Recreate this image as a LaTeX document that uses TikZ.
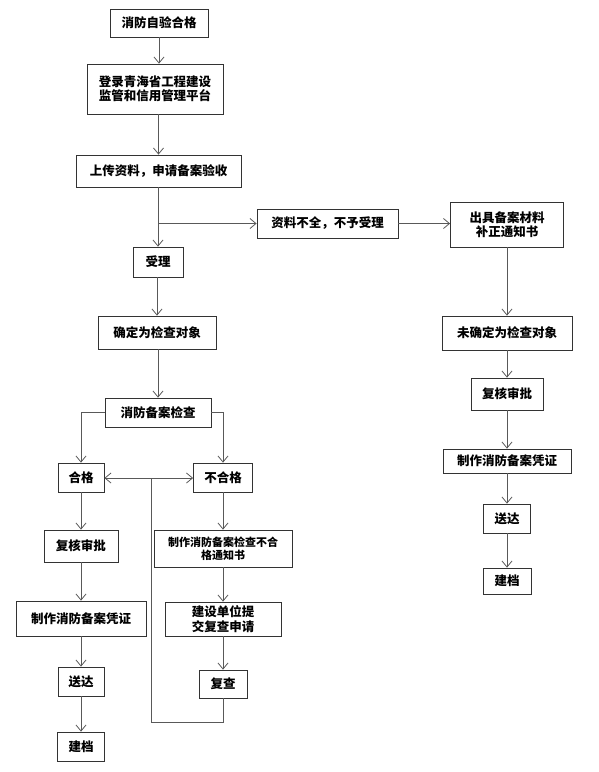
\documentclass[tikz,border=0pt]{standalone}
\usepackage{fontspec}
\newfontfamily\cjk{Noto Sans CJK SC}
\usetikzlibrary{arrows.meta}

\begin{document}
\begin{tikzpicture}[
    x=1pt, y=-1pt,
    box/.style={draw=black!80, line width=0.8pt, inner sep=0pt, align=center,
      font=\cjk\bfseries\fontsize{12.5}{14.5}\selectfont},
    small/.style={font=\cjk\bfseries\fontsize{11}{12.5}\selectfont},
    flow/.style={draw=black!65, line width=0.8pt,
      -{Straight Barb[length=6pt, width=10pt]}},
    line/.style={draw=black!65, line width=0.8pt}]
  \useasboundingbox (0,0) rectangle (598,772);
  % main column
  \node[box, minimum width=98,  minimum height=28] (zy)  at (159,23)    {消防自验合格};
  \node[box, minimum width=136, minimum height=50] (dl)  at (155,89)    {登录青海省工程建设\\监管和信用管理平台};
  \node[box, minimum width=165, minimum height=32] (sc)  at (158.5,171) {上传资料，申请备案验收};
  \node[box, minimum width=50,  minimum height=30] (sl)  at (158,262)   {受理};
  \node[box, minimum width=118, minimum height=33] (qd)  at (157,332.5) {确定为检查对象};
  \node[box, minimum width=106, minimum height=29] (jc)  at (158,412.5) {消防备案检查};
  % rejected branch
  \node[box, minimum width=141, minimum height=29] (bq)  at (327.5,223.5) {资料不全，不予受理};
  \node[box, minimum width=113, minimum height=45] (cj)  at (507,224.5)   {出具备案材料\\补正通知书};
  \node[box, minimum width=130, minimum height=34] (wqd) at (507,333)     {未确定为检查对象};
  \node[box, minimum width=72,  minimum height=32] (fhb) at (507,394)     {复核审批};
  \node[box, minimum width=128, minimum height=24] (pzb) at (507,461)     {制作消防备案凭证};
  \node[box, minimum width=47,  minimum height=29] (sdb) at (507,518.5)   {送达};
  \node[box, minimum width=48,  minimum height=26] (jdb) at (507,581)     {建档};
  % passed
  \node[box, minimum width=46,  minimum height=29] (hg)  at (81,477.5)  {合格};
  \node[box, minimum width=74,  minimum height=32] (fha) at (81,546)    {复核审批};
  \node[box, minimum width=130, minimum height=35] (pza) at (81,618.5)  {制作消防备案凭证};
  \node[box, minimum width=46,  minimum height=29] (sda) at (81,681.5)  {送达};
  \node[box, minimum width=47,  minimum height=29] (jda) at (81,746.5)  {建档};
  % failed
  \node[box, small, minimum width=138, minimum height=37] (tz) at (223,548.5) {制作消防备案检查不合\\格通知书};
  \node[box, minimum width=59,  minimum height=29] (bhg) at (223,477.5) {不合格};
  \node[box, minimum width=116, minimum height=34] (sq)  at (223,619)   {建设单位提\\交复查申请};
  \node[box, minimum width=48,  minimum height=28] (fc)  at (223,684)   {复查};
  \coordinate (br) at (158,223.5);
  \coordinate (lp) at (151,478);
  \coordinate (lb) at (151,722);
  % connectors
  \draw[flow] (zy) -- (zy |- dl.north);
  \draw[flow] (dl.south -| sc) -- (sc);
  \draw[flow] (sc.south -| sl) -- (sl);
  \draw[flow] (br) -- (br -| bq.west);
  \draw[flow] (bq) -- (bq -| cj.west);
  \draw[flow] (cj) -- (wqd);
  \draw[flow] (wqd) -- (fhb);
  \draw[flow] (fhb) -- (pzb);
  \draw[flow] (pzb) -- (sdb);
  \draw[flow] (sdb) -- (jdb);
  \draw[flow] (sl.south -| qd) -- (qd);
  \draw[flow] (qd.south -| jc) -- (jc);
  \draw[flow] (jc.west) -| (hg);
  \draw[flow] (jc.east) -| (bhg);
  \draw[flow] (hg) -- (fha);
  \draw[flow] (fha) -- (pza);
  \draw[flow] (pza) -- (sda);
  \draw[flow] (sda) -- (jda);
  \draw[flow] (bhg) -- (tz);
  \draw[flow] (tz) -- (sq);
  \draw[flow] (sq) -- (fc);
  \draw[line] (fc) |- (lb) -- (lp);
  \draw[flow] (lp) -- (lp -| hg.east);
  \draw[flow] (lp) -- (lp -| bhg.west);
\end{tikzpicture}
\end{document}
